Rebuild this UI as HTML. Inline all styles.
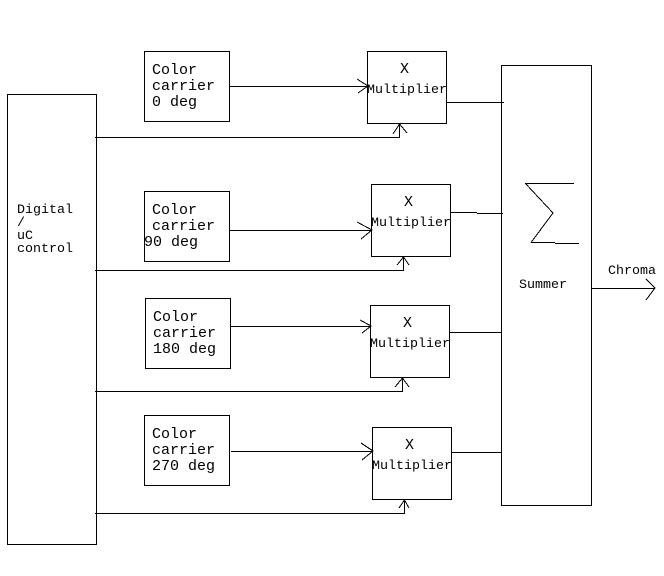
<!DOCTYPE html>
<html>
<head>
<meta charset="utf-8">
<style>
html,body{margin:0;padding:0;background:#fff;width:664px;height:576px;overflow:hidden}
svg{display:block}
text{font-family:"Liberation Mono",monospace;fill:#000}
.a{font-size:15px}
.b{font-size:13.33px}
</style>
</head>
<body>
<svg width="664" height="576" viewBox="0 0 664 576" xmlns="http://www.w3.org/2000/svg">
<rect width="664" height="576" fill="#fff"/>
<g fill="none" stroke="#000" stroke-width="1">
<rect x="7.5" y="94.5" width="89" height="450"/>
<rect x="144.5" y="51.5" width="85" height="70"/>
<rect x="144.5" y="191.5" width="85" height="70"/>
<rect x="145.5" y="298.5" width="85" height="70"/>
<rect x="144.5" y="415.5" width="85" height="70"/>
<rect x="367.5" y="51.5" width="79" height="72"/>
<rect x="371.5" y="184.5" width="79" height="72"/>
<rect x="370.5" y="305.5" width="79" height="72"/>
<rect x="372.5" y="427.5" width="79" height="72"/>
<rect x="501.5" y="65.5" width="90" height="440"/>
<path d="M229 86.5H368"/>
<path d="M230 230.5H372"/>
<path d="M230 326.5H371"/>
<path d="M231 451.5H373"/>
<path d="M95 137.5H399.5V124"/>
<path d="M95 270.5H403.5V257"/>
<path d="M95 391.5H402.5V378"/>
<path d="M95 513.5H404.5V500"/>
<path d="M446 102.5H504"/>
<path d="M450 212.5H477M477 213.5H503"/>
<path d="M450 332.5H501"/>
<path d="M451 452.5H501"/>
<path d="M591 288.5H655"/>
<path d="M574 183.5H525M531 242.5H555M555 243.5H579"/>
</g>
<g fill="none" stroke="#000" stroke-width="1" shape-rendering="crispEdges">
<path d="M357 79L368 86L358 93"/>
<path d="M357 222L372 230L361 239"/>
<path d="M360 320L371 326L362 333"/>
<path d="M361 443L373 451L362 460"/>
<path d="M393 134L399.5 124L407 133"/>
<path d="M397 265L403.5 257L409 265"/>
<path d="M395 387L402.5 378L409 387"/>
<path d="M399 508L404.5 500L409 508"/>
<path d="M646 279L655 288L646 300"/>
<path d="M525.5 183.5L553 213L531 242.5"/>
</g>
<g>
<text class="a" x="152" y="74">Color</text>
<text class="a" x="152" y="90">carrier</text>
<text class="a" x="152" y="106">0 deg</text>
<text class="a" x="152" y="214">Color</text>
<text class="a" x="152" y="230">carrier</text>
<text class="a" x="144" y="246">90 deg</text>
<text class="a" x="153" y="321">Color</text>
<text class="a" x="153" y="337">carrier</text>
<text class="a" x="153" y="353">180 deg</text>
<text class="a" x="152" y="438">Color</text>
<text class="a" x="152" y="454">carrier</text>
<text class="a" x="152" y="470">270 deg</text>
</g>
<g>
<text class="b" x="17" y="213">Digital</text>
<text class="b" x="17" y="226">/</text>
<text class="b" x="17" y="239">uC</text>
<text class="b" x="17" y="252">control</text>
<text class="a" x="400" y="73">X</text>
<text class="b" x="367" y="93">Multiplier</text>
<text class="a" x="404" y="206">X</text>
<text class="b" x="371" y="226">Multiplier</text>
<text class="a" x="403" y="327">X</text>
<text class="b" x="370" y="347">Multiplier</text>
<text class="a" x="405" y="449">X</text>
<text class="b" x="372" y="469">Multiplier</text>
<text class="b" x="519" y="288">Summer</text>
<text class="b" x="608" y="274">Chroma</text>
</g>
</svg>
</body>
</html>
